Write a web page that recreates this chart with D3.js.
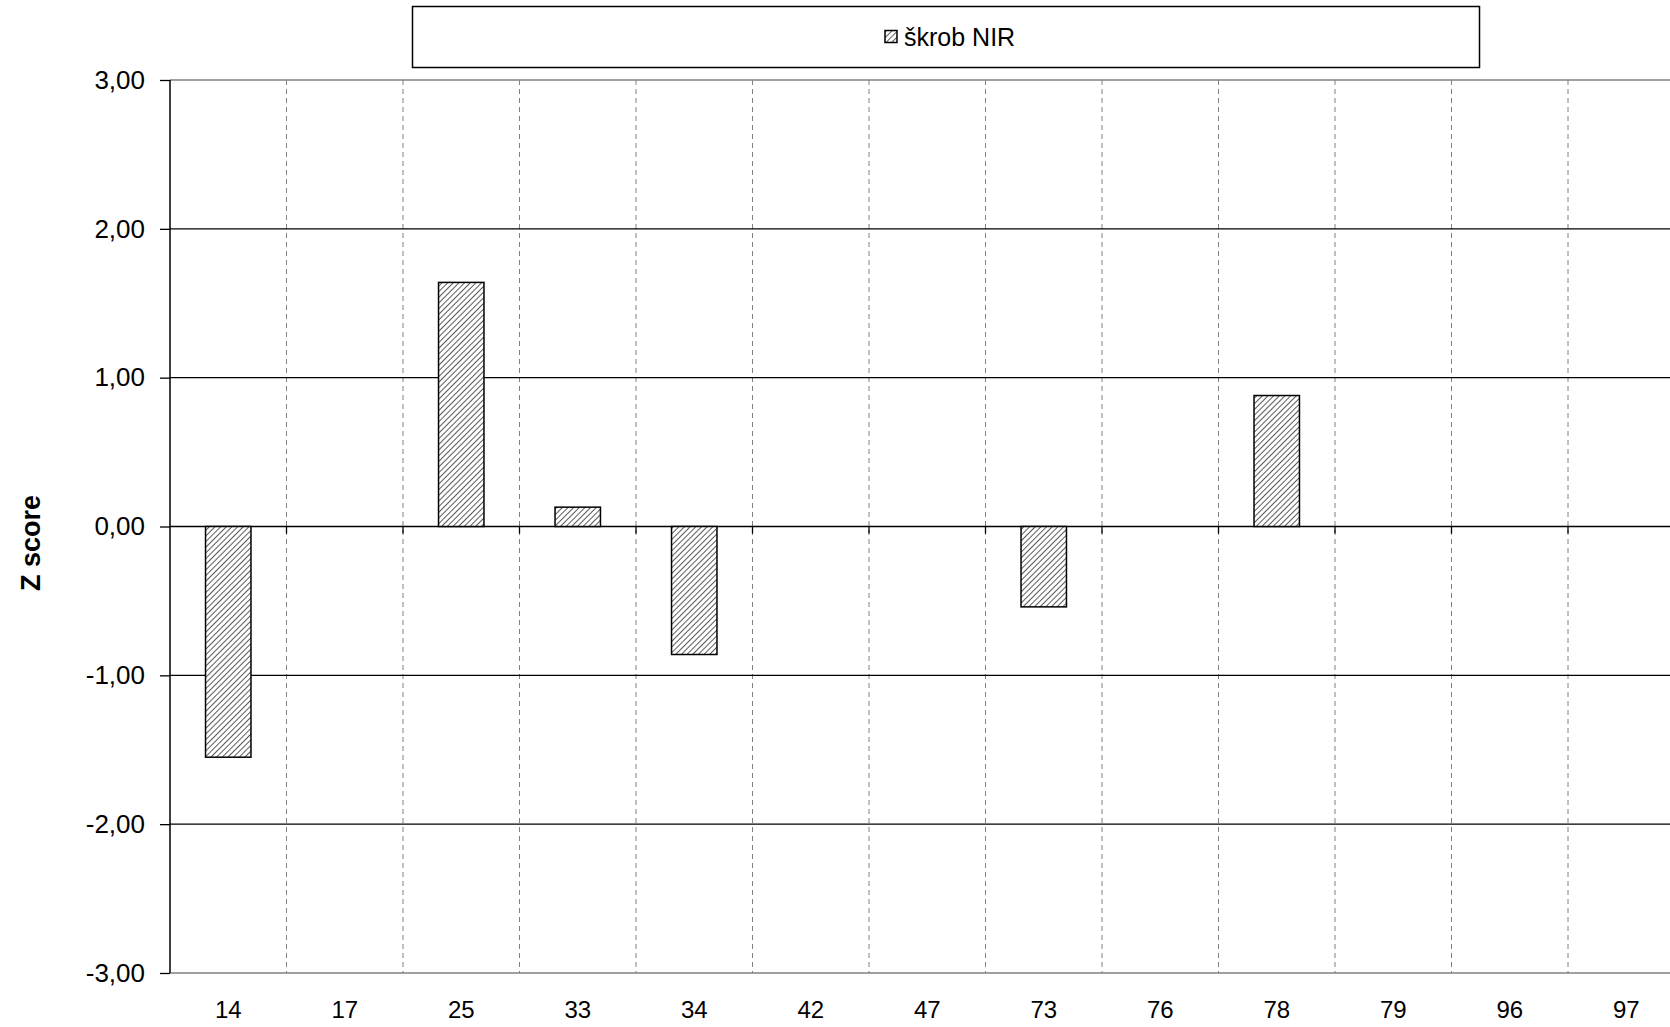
<!DOCTYPE html>
<html><head><meta charset="utf-8">
<script src="https://cdn.jsdelivr.net/npm/d3@7"></script>
<style>body{margin:0;background:#fff}svg{display:block}text{font-family:"Liberation Sans",Arial,sans-serif}</style>
</head><body>
<script>
const categories = ["14","17","25","33","34","42","47","73","76","78","79","96","97"];
const values = [-1.55, null, 1.64, 0.13, -0.86, null, null, -0.54, null, 0.88, null, null, null];
const yTicks = [-3,-2,-1,0,1,2,3];
const seriesName = "škrob NIR";

(function(){
const W = 1670, H = 1027;
const plotLeft = 170, step = 116.5, plotTop = 80, plotBottom = 973;
const svg = d3.select("body").append("svg").attr("width", W).attr("height", H);

const defs = svg.append("defs");
const pat = defs.append("pattern").attr("id","hatch").attr("patternUnits","userSpaceOnUse")
  .attr("width",4).attr("height",4).attr("patternTransform","rotate(45)");
pat.append("rect").attr("width",4).attr("height",4).attr("fill","#fff");
pat.append("line").attr("x1",0).attr("y1",0).attr("x2",0).attr("y2",4).attr("stroke","#000").attr("stroke-width",1.3);

const x = d3.scaleBand().domain(categories).range([plotLeft, plotLeft + step*categories.length]).padding(0);
const y = d3.scaleLinear().domain([-3,3]).range([plotBottom, plotTop]);

// vertical dashed gridlines at category boundaries
categories.forEach((c,i)=>{
  if(i===0) return;
  const xx = x(c);
  svg.append("line").attr("x1",xx).attr("x2",xx).attr("y1",plotTop).attr("y2",plotBottom)
    .attr("stroke","#808080").attr("stroke-width",1).attr("stroke-dasharray","5,4");
});

// horizontal gridlines
yTicks.forEach(t=>{
  const edge = (t===3||t===-3);
  svg.append("line").attr("x1",plotLeft).attr("x2",W).attr("y1",y(t)).attr("y2",y(t))
    .attr("stroke", edge ? "#808080" : "#000").attr("stroke-width",1.3);
});

// bars
const bw = x.bandwidth()*0.39;
svg.append("g").selectAll("rect").data(categories.map((c,i)=>({c, v: values[i]})).filter(d=>d.v!==null))
  .join("rect")
  .attr("x", d=> x(d.c) + x.bandwidth()/2 - bw/2)
  .attr("width", bw)
  .attr("y", d=> y(Math.max(0,d.v)))
  .attr("height", d=> Math.abs(y(d.v)-y(0)))
  .attr("fill","url(#hatch)").attr("stroke","#000").attr("stroke-width",1.5);

// zero-line ticks
categories.forEach((c,i)=>{
  if(i===0) return;
  svg.append("line").attr("x1",x(c)).attr("x2",x(c)).attr("y1",y(0)).attr("y2",y(0)+7)
    .attr("stroke","#000").attr("stroke-width",1.3);
});

// y axis
const yAxis = d3.axisLeft(y).tickValues(yTicks).tickSize(10).tickPadding(6)
  .tickFormat(d => d3.format(".2f")(d).replace(".", ",").replace("\u2212", "-"));
const ga = svg.append("g").attr("transform",`translate(${plotLeft},0)`).call(yAxis);
ga.select(".domain").attr("stroke","#000").attr("stroke-width",1.5).attr("d",`M0,${plotTop}V${plotBottom}`);
ga.selectAll(".tick line").attr("stroke","#000").attr("stroke-width",1.3);
ga.selectAll(".tick text").attr("font-size",26).attr("fill","#000")
  .attr("font-family","'Liberation Sans',Arial,sans-serif").attr("dx",-9).attr("dy","0.32em");

// x labels
svg.append("g").selectAll("text").data(categories).join("text")
  .attr("x", d=> x(d)+x.bandwidth()/2).attr("y", 1018)
  .attr("text-anchor","middle").attr("font-size",24).attr("fill","#000").text(d=>d);

// y title
svg.append("text").attr("transform","translate(40,543) rotate(-90)")
  .attr("text-anchor","middle").attr("font-size",27).attr("font-weight","bold").text("Z score");

// legend
svg.append("rect").attr("x",412.5).attr("y",6.5).attr("width",1067).attr("height",61)
  .attr("fill","#fff").attr("stroke","#000").attr("stroke-width",1.5);
svg.append("rect").attr("x",885).attr("y",30.5).attr("width",12).attr("height",12)
  .attr("fill","url(#hatch)").attr("stroke","#000").attr("stroke-width",1.5);
svg.append("text").attr("x",904).attr("y",46).attr("font-size",25).attr("fill","#000").text(seriesName);
})();
</script>
</body></html>
